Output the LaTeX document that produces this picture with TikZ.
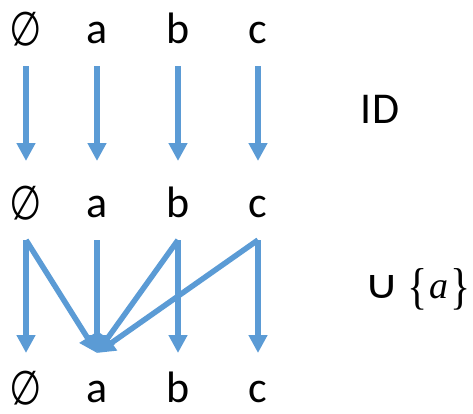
\documentclass[tikz,border=0pt]{standalone}
\usepackage{fontspec}
\setmainfont{Carlito}
\newfontfamily\symfont{DejaVu Sans}
\newfontfamily\serfont{Liberation Serif}
\newfontfamily\esfont{Fira Sans}
\usetikzlibrary{arrows.meta,calc}
\definecolor{ablue}{HTML}{5B9BD5}
\tikzset{
  lbl/.style={anchor=base,inner sep=0pt,font=\fontsize{44}{50}\selectfont},
  arr/.style={draw=ablue,line width=5.5pt,-{Triangle[length=18pt,width=18pt]}},
}
\newcommand{\es}{\raisebox{-2pt}{\scalebox{0.82}[1.06]{\esfont ∅}}}
\begin{document}
\begin{tikzpicture}[x=1pt,y=-1pt]
\useasboundingbox (0,0) rectangle (473,413);
% top row
\node[lbl] (t0) at (26,43) {\es};
\node[lbl] (t1) at (97,43) {a};
\node[lbl] (t2) at (178,43) {b};
\node[lbl] (t3) at (258,43) {c};
% middle row
\node[lbl] (m0) at (26,217) {\es};
\node[lbl] (m1) at (97,217) {a};
\node[lbl] (m2) at (178,217) {b};
\node[lbl] (m3) at (258,217) {c};
% bottom row
\node[lbl] (b0) at (26,402) {\es};
\node[lbl] (b1) at (97,402) {a};
\node[lbl] (b2) at (178,402) {b};
\node[lbl] (b3) at (258,402) {c};
% labels
\node[lbl] (id) at (380,123) {ID};
\node[lbl,anchor=base west] (un) at (364,298) {\resizebox{35pt}{23pt}{\symfont ∪}\hspace{8pt}{\serfont\fontsize{42}{48}\selectfont\raisebox{-5pt}{\scalebox{1}[1.2]{\{}}\hspace{2pt}\fontsize{38}{40}\selectfont\itshape a\/\upshape\hspace{2pt}\fontsize{42}{48}\selectfont\raisebox{-5pt}{\scalebox{1}[1.2]{\}}}}};
% ID arrows
\foreach \i in {0,...,3}{
  \draw[arr] ($(t\i.base)+(0,23)$) -- ($(m\i.base)+(0,-56)$);
}
% union arrows
\foreach \i in {0,...,3}{
  \draw[arr] ($(m\i.base)+(0,23)$) -- ($(b\i.base)+(0,-49)$);
}
\draw[arr] ($(m0.base)+(0,23)$) -- ($(b1.base)+(0,-49)$);
\draw[arr] ($(m2.base)+(0,23)$) -- ($(b1.base)+(0,-49)$);
\draw[arr] ($(m3.base)+(0,23)$) -- ($(b1.base)+(0,-49)$);
\end{tikzpicture}
\end{document}
